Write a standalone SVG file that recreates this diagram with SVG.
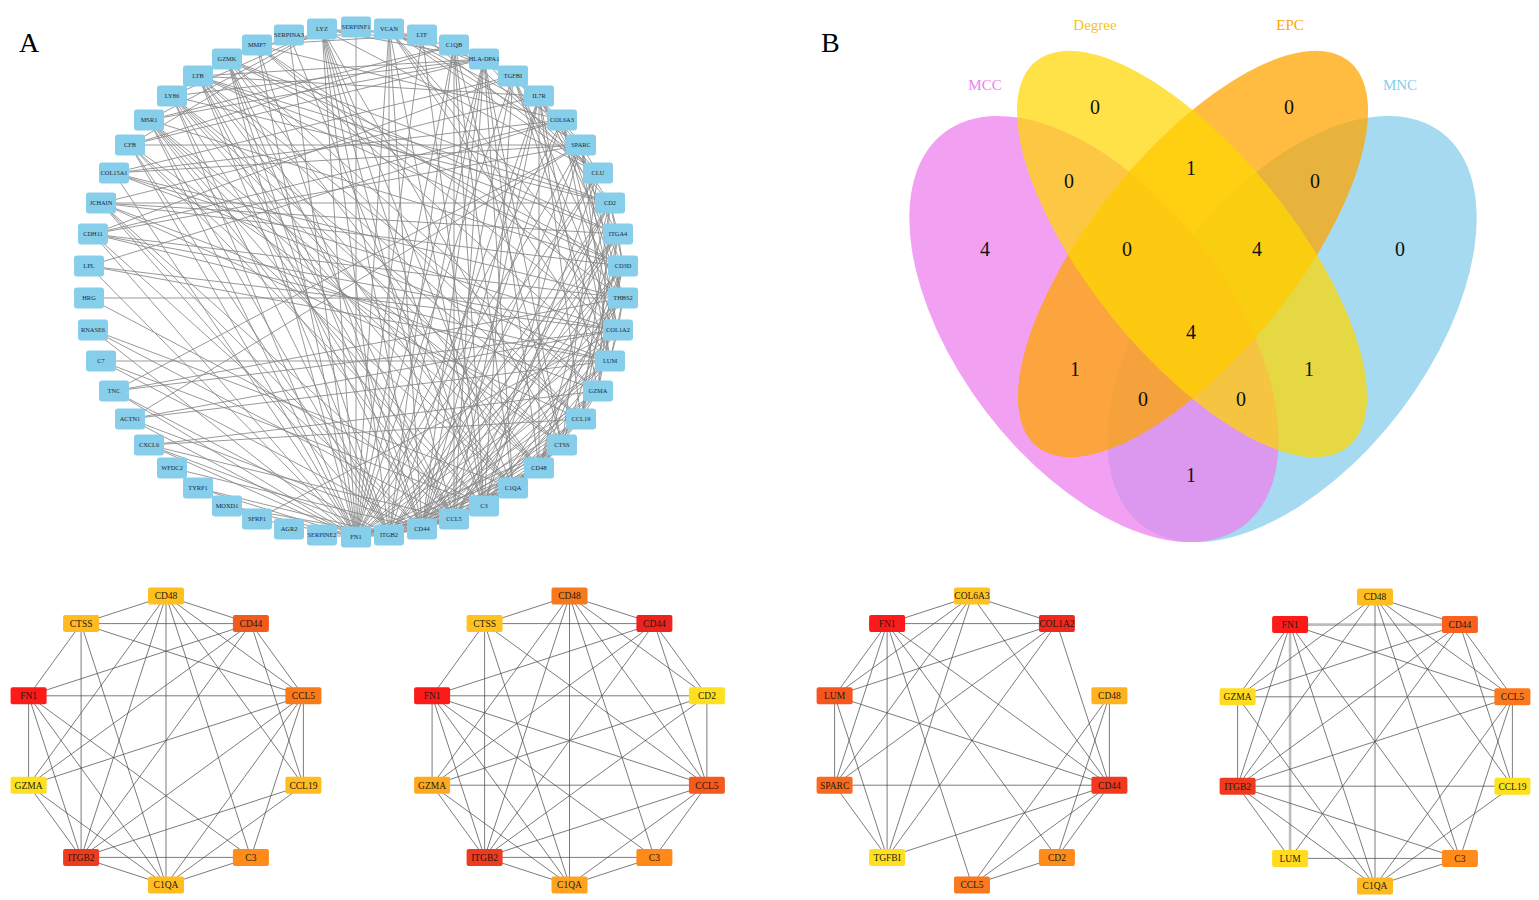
<svg xmlns="http://www.w3.org/2000/svg" width="1539" height="900" viewBox="0 0 1539 900">
<style>
text{font-family:"Liberation Serif","Times New Roman",serif}
.panel{font-size:28px;fill:#000}
.bn rect{fill:#87CEEB}
.bn text{font-size:6.4px;fill:#1b2838;text-anchor:middle}
.be{stroke:#878787;stroke-width:0.85;fill:none}
.sn rect{stroke:none}
.sn text{font-size:9.5px;fill:#221a10;text-anchor:middle}
.se{stroke:#444;stroke-width:0.7;fill:none}
.sthick{stroke:#bdbdbd;stroke-width:2.6;fill:none}
.vl{font-size:15px;text-anchor:middle}
.vn{font-size:20px;fill:#111;text-anchor:middle}
</style>
<rect width="1539" height="900" fill="#fff"/>
<text class="panel" x="19" y="52">A</text>
<text class="panel" x="821" y="52">B</text>

<!-- Panel A: large network -->
<g id="connectors-A">
<path class="be" d="M356,27L356,537L322,29M389,29L356,537L422,35M454,45L356,537L484,59M513,76L356,537L562,120M581,145L356,537L598,173M618,234L356,537L623,298M618,330L356,537L610,361M562,445L356,537L539,468M513,488L356,537L484,506M454,519L356,537L422,529M389,535L356,537L322,535M257,519L356,537L227,506M198,488L356,537L149,445M130,419L356,537L114,391M93,330L356,537L89,266M93,234L356,537L114,173M130,145L356,537L149,120M172,96L356,537L257,45M289,35L356,537L227,59"/>
<path class="be" d="M610,203L389,535L618,234M623,266L389,535L454,519M422,529L389,535L484,506M513,488L389,535L539,468M562,445L389,535L581,419M598,391L389,535L610,361M539,96L389,535L484,59M322,29L389,535L389,29M198,76L389,535L227,59M172,96L389,535L149,120M130,145L389,535L101,203M198,488L389,535L227,506M149,445L389,535L114,391M454,45L389,535L598,173"/>
<path class="be" d="M610,203L422,529L618,234M623,266L422,529L454,519M484,506L422,529L513,488M539,468L422,529L562,445M581,419L422,529L598,391M610,361L422,529L618,330M623,298L422,529L581,145M562,120L422,529L513,76M539,96L422,529L484,59M322,29L422,529L389,29M257,45L422,529L227,59M198,76L422,529L101,203M93,234L422,529L101,361M130,419L422,529L172,468"/>
<path class="be" d="M610,203L454,519L618,234M623,266L454,519L484,506M513,488L454,519L539,468M562,445L454,519L581,419M598,391L454,519L539,96M484,59L454,519L198,76M227,59L454,519L149,445M101,203L454,519L172,96M149,120L454,519L322,29M454,45L454,519L93,330"/>
<path class="be" d="M513,488L484,506L454,45M539,468L484,506L562,445M598,173L484,506L322,29M422,35L484,506L289,35M89,298L484,506L101,361M130,145L484,506L149,120M389,29L484,506L610,361M618,330L484,506L581,145M513,76L484,506L623,298"/>
<path class="be" d="M454,45L513,488L539,468M562,445L513,488L581,419M322,29L513,488L149,120M130,145L513,488L172,96M484,59L513,488L598,391M198,76L513,488L93,330"/>
<path class="be" d="M610,203L539,468L623,266M618,234L539,468L562,445M598,391L539,468L581,419M539,96L539,468L484,59M172,96L539,468L149,120M198,76L539,468L227,59"/>
<path class="be" d="M322,29L562,445L149,120M454,45L562,445L484,59M623,266L562,445L598,173M130,145L562,445L172,96"/>
<path class="be" d="M610,203L581,419L623,266M618,234L581,419L539,96M598,391L581,419L198,76M227,59L581,419L172,96M101,203L581,419L149,445"/>
<path class="be" d="M610,203L598,391L623,266M618,234L598,391L227,59M539,96L598,391L101,203M198,76L598,391L149,445"/>
<path class="be" d="M618,330L610,361L623,298M581,145L610,361L562,120M513,76L610,361L389,29M101,361L610,361L93,234M114,173L610,361L257,45M89,266L610,361L130,419"/>
<path class="be" d="M623,298L618,330L581,145M562,120L618,330L513,76M389,29L618,330L93,234M114,173L618,330L257,45M114,391L618,330L89,266M130,419L618,330L257,519"/>
<path class="be" d="M623,298L581,145L562,120M513,76L581,145L389,29M598,173L581,145L114,173M93,234L581,145L114,391M130,419L581,145L130,145"/>
<path class="be" d="M562,120L623,298L513,76M389,29L623,298L89,298M93,234L623,298L114,173M114,391L623,298L257,45"/>
<path class="be" d="M513,76L562,120L389,29M114,173L562,120L93,234M257,45L562,120L89,266"/>
<path class="be" d="M389,29L513,76L114,173M93,234L513,76L598,173"/>
<path class="be" d="M623,266L610,203L618,234M539,96L610,203L227,59M198,76L610,203L101,203M484,59L610,203L172,96"/>
<path class="be" d="M618,234L623,266L539,96M227,59L623,266L198,76M101,203L623,266L149,120"/>
<path class="be" d="M539,96L618,234L101,203M198,76L618,234L227,59M198,76L539,96L101,203"/>
<path class="be" d="M322,29L484,59L454,45M172,96L484,59L149,120M130,145L484,59L198,76"/>
<path class="be" d="M422,35L322,29L454,45M149,120L322,29L172,96M130,145L322,29L598,173"/>
<path class="be" d="M257,45L422,35L598,173M454,45L598,173L389,29M149,120L454,45L130,145M257,45L389,29"/>
</g>

<g id="nodes-A">
<g id="a-SERPINA3" class="bn" transform="translate(289 35)"><rect x="-15" y="-10.5" width="30" height="21" rx="3"/><text y="2.2">SERPINA3</text></g>
<g id="a-LYZ" class="bn" transform="translate(322 29)"><rect x="-15" y="-10.5" width="30" height="21" rx="3"/><text y="2.2">LYZ</text></g>
<g id="a-SERPINF1" class="bn" transform="translate(356 27)"><rect x="-15" y="-10.5" width="30" height="21" rx="3"/><text y="2.2">SERPINF1</text></g>
<g id="a-VCAN" class="bn" transform="translate(389 29)"><rect x="-15" y="-10.5" width="30" height="21" rx="3"/><text y="2.2">VCAN</text></g>
<g id="a-LTF" class="bn" transform="translate(422 35)"><rect x="-15" y="-10.5" width="30" height="21" rx="3"/><text y="2.2">LTF</text></g>
<g id="a-C1QB" class="bn" transform="translate(454 45)"><rect x="-15" y="-10.5" width="30" height="21" rx="3"/><text y="2.2">C1QB</text></g>
<g id="a-HLA-DPA1" class="bn" transform="translate(484 59)"><rect x="-15" y="-10.5" width="30" height="21" rx="3"/><text y="2.2">HLA-DPA1</text></g>
<g id="a-TGFBI" class="bn" transform="translate(513 76)"><rect x="-15" y="-10.5" width="30" height="21" rx="3"/><text y="2.2">TGFBI</text></g>
<g id="a-IL7R" class="bn" transform="translate(539 96)"><rect x="-15" y="-10.5" width="30" height="21" rx="3"/><text y="2.2">IL7R</text></g>
<g id="a-COL6A3" class="bn" transform="translate(562 120)"><rect x="-15" y="-10.5" width="30" height="21" rx="3"/><text y="2.2">COL6A3</text></g>
<g id="a-SPARC" class="bn" transform="translate(581 145)"><rect x="-15" y="-10.5" width="30" height="21" rx="3"/><text y="2.2">SPARC</text></g>
<g id="a-CLU" class="bn" transform="translate(598 173)"><rect x="-15" y="-10.5" width="30" height="21" rx="3"/><text y="2.2">CLU</text></g>
<g id="a-CD2" class="bn" transform="translate(610 203)"><rect x="-15" y="-10.5" width="30" height="21" rx="3"/><text y="2.2">CD2</text></g>
<g id="a-ITGA4" class="bn" transform="translate(618 234)"><rect x="-15" y="-10.5" width="30" height="21" rx="3"/><text y="2.2">ITGA4</text></g>
<g id="a-CD3D" class="bn" transform="translate(623 266)"><rect x="-15" y="-10.5" width="30" height="21" rx="3"/><text y="2.2">CD3D</text></g>
<g id="a-THBS2" class="bn" transform="translate(623 298)"><rect x="-15" y="-10.5" width="30" height="21" rx="3"/><text y="2.2">THBS2</text></g>
<g id="a-COL1A2" class="bn" transform="translate(618 330)"><rect x="-15" y="-10.5" width="30" height="21" rx="3"/><text y="2.2">COL1A2</text></g>
<g id="a-LUM" class="bn" transform="translate(610 361)"><rect x="-15" y="-10.5" width="30" height="21" rx="3"/><text y="2.2">LUM</text></g>
<g id="a-GZMA" class="bn" transform="translate(598 391)"><rect x="-15" y="-10.5" width="30" height="21" rx="3"/><text y="2.2">GZMA</text></g>
<g id="a-CCL19" class="bn" transform="translate(581 419)"><rect x="-15" y="-10.5" width="30" height="21" rx="3"/><text y="2.2">CCL19</text></g>
<g id="a-CTSS" class="bn" transform="translate(562 445)"><rect x="-15" y="-10.5" width="30" height="21" rx="3"/><text y="2.2">CTSS</text></g>
<g id="a-CD48" class="bn" transform="translate(539 468)"><rect x="-15" y="-10.5" width="30" height="21" rx="3"/><text y="2.2">CD48</text></g>
<g id="a-C1QA" class="bn" transform="translate(513 488)"><rect x="-15" y="-10.5" width="30" height="21" rx="3"/><text y="2.2">C1QA</text></g>
<g id="a-C3" class="bn" transform="translate(484 506)"><rect x="-15" y="-10.5" width="30" height="21" rx="3"/><text y="2.2">C3</text></g>
<g id="a-CCL5" class="bn" transform="translate(454 519)"><rect x="-15" y="-10.5" width="30" height="21" rx="3"/><text y="2.2">CCL5</text></g>
<g id="a-CD44" class="bn" transform="translate(422 529)"><rect x="-15" y="-10.5" width="30" height="21" rx="3"/><text y="2.2">CD44</text></g>
<g id="a-ITGB2" class="bn" transform="translate(389 535)"><rect x="-15" y="-10.5" width="30" height="21" rx="3"/><text y="2.2">ITGB2</text></g>
<g id="a-FN1" class="bn" transform="translate(356 537)"><rect x="-15" y="-10.5" width="30" height="21" rx="3"/><text y="2.2">FN1</text></g>
<g id="a-SERPINE2" class="bn" transform="translate(322 535)"><rect x="-15" y="-10.5" width="30" height="21" rx="3"/><text y="2.2">SERPINE2</text></g>
<g id="a-AGR2" class="bn" transform="translate(289 529)"><rect x="-15" y="-10.5" width="30" height="21" rx="3"/><text y="2.2">AGR2</text></g>
<g id="a-SFRP1" class="bn" transform="translate(257 519)"><rect x="-15" y="-10.5" width="30" height="21" rx="3"/><text y="2.2">SFRP1</text></g>
<g id="a-MOXD1" class="bn" transform="translate(227 506)"><rect x="-15" y="-10.5" width="30" height="21" rx="3"/><text y="2.2">MOXD1</text></g>
<g id="a-TYRP1" class="bn" transform="translate(198 488)"><rect x="-15" y="-10.5" width="30" height="21" rx="3"/><text y="2.2">TYRP1</text></g>
<g id="a-WFDC2" class="bn" transform="translate(172 468)"><rect x="-15" y="-10.5" width="30" height="21" rx="3"/><text y="2.2">WFDC2</text></g>
<g id="a-CXCL6" class="bn" transform="translate(149 445)"><rect x="-15" y="-10.5" width="30" height="21" rx="3"/><text y="2.2">CXCL6</text></g>
<g id="a-ACTN1" class="bn" transform="translate(130 419)"><rect x="-15" y="-10.5" width="30" height="21" rx="3"/><text y="2.2">ACTN1</text></g>
<g id="a-TNC" class="bn" transform="translate(114 391)"><rect x="-15" y="-10.5" width="30" height="21" rx="3"/><text y="2.2">TNC</text></g>
<g id="a-C7" class="bn" transform="translate(101 361)"><rect x="-15" y="-10.5" width="30" height="21" rx="3"/><text y="2.2">C7</text></g>
<g id="a-RNASE6" class="bn" transform="translate(93 330)"><rect x="-15" y="-10.5" width="30" height="21" rx="3"/><text y="2.2">RNASE6</text></g>
<g id="a-HRG" class="bn" transform="translate(89 298)"><rect x="-15" y="-10.5" width="30" height="21" rx="3"/><text y="2.2">HRG</text></g>
<g id="a-LPL" class="bn" transform="translate(89 266)"><rect x="-15" y="-10.5" width="30" height="21" rx="3"/><text y="2.2">LPL</text></g>
<g id="a-CDH11" class="bn" transform="translate(93 234)"><rect x="-15" y="-10.5" width="30" height="21" rx="3"/><text y="2.2">CDH11</text></g>
<g id="a-JCHAIN" class="bn" transform="translate(101 203)"><rect x="-15" y="-10.5" width="30" height="21" rx="3"/><text y="2.2">JCHAIN</text></g>
<g id="a-COL15A1" class="bn" transform="translate(114 173)"><rect x="-15" y="-10.5" width="30" height="21" rx="3"/><text y="2.2">COL15A1</text></g>
<g id="a-CFB" class="bn" transform="translate(130 145)"><rect x="-15" y="-10.5" width="30" height="21" rx="3"/><text y="2.2">CFB</text></g>
<g id="a-MSR1" class="bn" transform="translate(149 120)"><rect x="-15" y="-10.5" width="30" height="21" rx="3"/><text y="2.2">MSR1</text></g>
<g id="a-LY86" class="bn" transform="translate(172 96)"><rect x="-15" y="-10.5" width="30" height="21" rx="3"/><text y="2.2">LY86</text></g>
<g id="a-LTB" class="bn" transform="translate(198 76)"><rect x="-15" y="-10.5" width="30" height="21" rx="3"/><text y="2.2">LTB</text></g>
<g id="a-GZMK" class="bn" transform="translate(227 59)"><rect x="-15" y="-10.5" width="30" height="21" rx="3"/><text y="2.2">GZMK</text></g>
<g id="a-MMP7" class="bn" transform="translate(257 45)"><rect x="-15" y="-10.5" width="30" height="21" rx="3"/><text y="2.2">MMP7</text></g>
</g>

<!-- Panel B: Venn -->
<g id="venn">
<ellipse id="v-MNC" cx="1292" cy="329" rx="247" ry="136" transform="rotate(-52.7 1292 329)" fill="#87CEEB" fill-opacity="0.75"/>
<ellipse id="v-MCC" cx="1094" cy="329" rx="247" ry="136" transform="rotate(52.7 1094 329)" fill="#EE82EE" fill-opacity="0.75"/>
<ellipse id="v-EPC" cx="1193" cy="254" rx="248" ry="102" transform="rotate(-51 1193 254)" fill="#FFA500" fill-opacity="0.75"/>
<ellipse id="v-Degree" cx="1192" cy="254" rx="248" ry="102" transform="rotate(51 1192 254)" fill="#FFD700" fill-opacity="0.72"/>
<text class="vl" x="985" y="90" fill="#EE82EE">MCC</text>
<text class="vl" x="1095" y="30" fill="#F5C518">Degree</text>
<text class="vl" x="1290" y="30" fill="#FFA500">EPC</text>
<text class="vl" x="1400" y="90" fill="#87CEEB">MNC</text>
<text class="vn" x="1095" y="114">0</text>
<text class="vn" x="1289" y="114">0</text>
<text class="vn" x="1191" y="175">1</text>
<text class="vn" x="1069" y="188">0</text>
<text class="vn" x="1315" y="188">0</text>
<text class="vn" x="985" y="256">4</text>
<text class="vn" x="1127" y="256">0</text>
<text class="vn" x="1257" y="256">4</text>
<text class="vn" x="1400" y="256">0</text>
<text class="vn" x="1191" y="339">4</text>
<text class="vn" x="1075" y="376">1</text>
<text class="vn" x="1309" y="376">1</text>
<text class="vn" x="1143" y="406">0</text>
<text class="vn" x="1241" y="406">0</text>
<text class="vn" x="1191" y="482">1</text>
</g>

<!-- Bottom networks -->
<g id="net1" transform="translate(166 740.5)">
<g id="connectors-1"><path class="se" d="M0,-144.5L-84.9,-116.9M0,-144.5L84.9,-116.9M0,-144.5L-137.4,44.7M0,-144.5L-84.9,116.9M0,-144.5L0,144.5M0,-144.5L84.9,116.9M0,-144.5L137.4,44.7M0,-144.5L137.4,-44.7M-84.9,-116.9L84.9,-116.9M-84.9,-116.9L-137.4,-44.7M-84.9,-116.9L-84.9,116.9M-84.9,-116.9L0,144.5M-84.9,-116.9L137.4,-44.7M84.9,-116.9L-137.4,-44.7M84.9,-116.9L-137.4,44.7M84.9,-116.9L-84.9,116.9M84.9,-116.9L137.4,-44.7M84.9,-116.9L137.4,44.7M-137.4,-44.7L137.4,-44.7M-137.4,-44.7L-137.4,44.7M-137.4,-44.7L-84.9,116.9M-137.4,-44.7L0,144.5M-137.4,-44.7L84.9,116.9M-137.4,44.7L-84.9,116.9M-137.4,44.7L0,144.5M-137.4,44.7L137.4,-44.7M-84.9,116.9L84.9,116.9M-84.9,116.9L0,144.5M-84.9,116.9L137.4,44.7M-84.9,116.9L137.4,-44.7M84.9,116.9L0,144.5M84.9,116.9L137.4,-44.7M0,144.5L137.4,-44.7M0,144.5L137.4,44.7M137.4,-44.7L137.4,44.7"/></g>
<g id="n1-CD48" class="sn" transform="translate(0 -144.5)"><rect x="-18" y="-8.5" width="36" height="17" rx="2" fill="#FFBF1F"/><text y="3.3">CD48</text></g>
<g id="n1-CD44" class="sn" transform="translate(84.9 -116.9)"><rect x="-18" y="-8.5" width="36" height="17" rx="2" fill="#F25A1E"/><text y="3.3">CD44</text></g>
<g id="n1-CCL5" class="sn" transform="translate(137.4 -44.7)"><rect x="-18" y="-8.5" width="36" height="17" rx="2" fill="#F9791B"/><text y="3.3">CCL5</text></g>
<g id="n1-CCL19" class="sn" transform="translate(137.4 44.7)"><rect x="-18" y="-8.5" width="36" height="17" rx="2" fill="#FFBB1F"/><text y="3.3">CCL19</text></g>
<g id="n1-C3" class="sn" transform="translate(84.9 116.9)"><rect x="-18" y="-8.5" width="36" height="17" rx="2" fill="#FF8C1A"/><text y="3.3">C3</text></g>
<g id="n1-C1QA" class="sn" transform="translate(0 144.5)"><rect x="-18" y="-8.5" width="36" height="17" rx="2" fill="#FFBD1F"/><text y="3.3">C1QA</text></g>
<g id="n1-ITGB2" class="sn" transform="translate(-84.9 116.9)"><rect x="-18" y="-8.5" width="36" height="17" rx="2" fill="#EE3B1F"/><text y="3.3">ITGB2</text></g>
<g id="n1-GZMA" class="sn" transform="translate(-137.4 44.7)"><rect x="-18" y="-8.5" width="36" height="17" rx="2" fill="#FFE01F"/><text y="3.3">GZMA</text></g>
<g id="n1-FN1" class="sn" transform="translate(-137.4 -44.7)"><rect x="-18" y="-8.5" width="36" height="17" rx="2" fill="#FF1A1A"/><text y="3.3">FN1</text></g>
<g id="n1-CTSS" class="sn" transform="translate(-84.9 -116.9)"><rect x="-18" y="-8.5" width="36" height="17" rx="2" fill="#FFBB1F"/><text y="3.3">CTSS</text></g>
</g>

<g id="net2" transform="translate(569.5 740.5)">
<g id="connectors-2"><path class="se" d="M0,-144.5L-84.9,-116.9M0,-144.5L84.9,-116.9M0,-144.5L-137.4,44.7M0,-144.5L-84.9,116.9M0,-144.5L0,144.5M0,-144.5L84.9,116.9M0,-144.5L137.4,44.7M0,-144.5L137.4,-44.7M-84.9,-116.9L84.9,-116.9M-84.9,-116.9L-137.4,-44.7M-84.9,-116.9L-84.9,116.9M-84.9,-116.9L0,144.5M-84.9,-116.9L137.4,44.7M84.9,-116.9L-137.4,-44.7M84.9,-116.9L-137.4,44.7M84.9,-116.9L-84.9,116.9M84.9,-116.9L137.4,-44.7M84.9,-116.9L137.4,44.7M-137.4,-44.7L137.4,-44.7M-137.4,-44.7L-137.4,44.7M-137.4,-44.7L-84.9,116.9M-137.4,-44.7L0,144.5M-137.4,-44.7L84.9,116.9M-137.4,-44.7L137.4,44.7M-137.4,44.7L137.4,44.7M-137.4,44.7L137.4,-44.7M-137.4,44.7L-84.9,116.9M-137.4,44.7L0,144.5M-84.9,116.9L84.9,116.9M-84.9,116.9L0,144.5M-84.9,116.9L137.4,44.7M-84.9,116.9L137.4,-44.7M84.9,116.9L0,144.5M84.9,116.9L137.4,44.7M0,144.5L137.4,44.7M137.4,-44.7L137.4,44.7"/></g>
<g id="n2-CD48" class="sn" transform="translate(0 -144.5)"><rect x="-18" y="-8.5" width="36" height="17" rx="2" fill="#F7781E"/><text y="3.3">CD48</text></g>
<g id="n2-CD44" class="sn" transform="translate(84.9 -116.9)"><rect x="-18" y="-8.5" width="36" height="17" rx="2" fill="#EE231E"/><text y="3.3">CD44</text></g>
<g id="n2-CD2" class="sn" transform="translate(137.4 -44.7)"><rect x="-18" y="-8.5" width="36" height="17" rx="2" fill="#FFE01F"/><text y="3.3">CD2</text></g>
<g id="n2-CCL5" class="sn" transform="translate(137.4 44.7)"><rect x="-18" y="-8.5" width="36" height="17" rx="2" fill="#F5591E"/><text y="3.3">CCL5</text></g>
<g id="n2-C3" class="sn" transform="translate(84.9 116.9)"><rect x="-18" y="-8.5" width="36" height="17" rx="2" fill="#FF8A1A"/><text y="3.3">C3</text></g>
<g id="n2-C1QA" class="sn" transform="translate(0 144.5)"><rect x="-18" y="-8.5" width="36" height="17" rx="2" fill="#FFA21E"/><text y="3.3">C1QA</text></g>
<g id="n2-ITGB2" class="sn" transform="translate(-84.9 116.9)"><rect x="-18" y="-8.5" width="36" height="17" rx="2" fill="#EE3B1F"/><text y="3.3">ITGB2</text></g>
<g id="n2-GZMA" class="sn" transform="translate(-137.4 44.7)"><rect x="-18" y="-8.5" width="36" height="17" rx="2" fill="#FFAA1E"/><text y="3.3">GZMA</text></g>
<g id="n2-FN1" class="sn" transform="translate(-137.4 -44.7)"><rect x="-18" y="-8.5" width="36" height="17" rx="2" fill="#FF1A1A"/><text y="3.3">FN1</text></g>
<g id="n2-CTSS" class="sn" transform="translate(-84.9 -116.9)"><rect x="-18" y="-8.5" width="36" height="17" rx="2" fill="#FFC21F"/><text y="3.3">CTSS</text></g>
</g>

<g id="net3" transform="translate(972 740.5)">
<g id="connectors-3"><path class="se" d="M0,-144.5L-84.9,-116.9M0,-144.5L84.9,-116.9M-84.9,-116.9L84.9,-116.9M0,-144.5L-137.4,-44.7M0,-144.5L-137.4,44.7M0,-144.5L-84.9,116.9M0,-144.5L137.4,44.7M-84.9,-116.9L-137.4,-44.7M-84.9,-116.9L-137.4,44.7M-84.9,-116.9L-84.9,116.9M-84.9,-116.9L0,144.5M-84.9,-116.9L84.9,116.9M-84.9,-116.9L137.4,44.7M84.9,-116.9L-137.4,-44.7M84.9,-116.9L-137.4,44.7M84.9,-116.9L-84.9,116.9M84.9,-116.9L137.4,44.7M-137.4,-44.7L-137.4,44.7M-137.4,-44.7L-84.9,116.9M-137.4,-44.7L137.4,44.7M-137.4,44.7L137.4,44.7M-137.4,44.7L-84.9,116.9M-84.9,116.9L137.4,44.7M137.4,-44.7L137.4,44.7M137.4,-44.7L84.9,116.9M137.4,-44.7L0,144.5M137.4,44.7L84.9,116.9M137.4,44.7L0,144.5M84.9,116.9L0,144.5"/></g>
<g id="n3-COL6A3" class="sn" transform="translate(0 -144.5)"><rect x="-18" y="-8.5" width="36" height="17" rx="2" fill="#FFC21F"/><text y="3.3">COL6A3</text></g>
<g id="n3-COL1A2" class="sn" transform="translate(84.9 -116.9)"><rect x="-18" y="-8.5" width="36" height="17" rx="2" fill="#F0281E"/><text y="3.3">COL1A2</text></g>
<g id="n3-CD48" class="sn" transform="translate(137.4 -44.7)"><rect x="-18" y="-8.5" width="36" height="17" rx="2" fill="#FFB21F"/><text y="3.3">CD48</text></g>
<g id="n3-CD44" class="sn" transform="translate(137.4 44.7)"><rect x="-18" y="-8.5" width="36" height="17" rx="2" fill="#F2381E"/><text y="3.3">CD44</text></g>
<g id="n3-CD2" class="sn" transform="translate(84.9 116.9)"><rect x="-18" y="-8.5" width="36" height="17" rx="2" fill="#FF8C1A"/><text y="3.3">CD2</text></g>
<g id="n3-CCL5" class="sn" transform="translate(0 144.5)"><rect x="-18" y="-8.5" width="36" height="17" rx="2" fill="#FA781E"/><text y="3.3">CCL5</text></g>
<g id="n3-TGFBI" class="sn" transform="translate(-84.9 116.9)"><rect x="-18" y="-8.5" width="36" height="17" rx="2" fill="#FFE01F"/><text y="3.3">TGFBI</text></g>
<g id="n3-SPARC" class="sn" transform="translate(-137.4 44.7)"><rect x="-18" y="-8.5" width="36" height="17" rx="2" fill="#FA6A1E"/><text y="3.3">SPARC</text></g>
<g id="n3-LUM" class="sn" transform="translate(-137.4 -44.7)"><rect x="-18" y="-8.5" width="36" height="17" rx="2" fill="#F7551E"/><text y="3.3">LUM</text></g>
<g id="n3-FN1" class="sn" transform="translate(-84.9 -116.9)"><rect x="-18" y="-8.5" width="36" height="17" rx="2" fill="#FF1A1A"/><text y="3.3">FN1</text></g>
</g>

<g id="net4" transform="translate(1375 741.5)">
<g id="connectors-4">
<path class="sthick" d="M-84.9,-116.9L84.9,-116.9M-84.9,-116.9L-84.9,116.9"/>
<path class="se" d="M0,-144.5L84.9,-116.9M0,-144.5L-137.4,-44.7M0,-144.5L-137.4,44.7M0,-144.5L0,144.5M0,-144.5L84.9,116.9M0,-144.5L137.4,44.7M0,-144.5L137.4,-44.7M-84.9,-116.9L-137.4,-44.7M-84.9,-116.9L-137.4,44.7M-84.9,-116.9L0,144.5M-84.9,-116.9L84.9,116.9M-84.9,-116.9L137.4,-44.7M84.9,-116.9L-137.4,-44.7M84.9,-116.9L-137.4,44.7M84.9,-116.9L-84.9,116.9M84.9,-116.9L137.4,-44.7M84.9,-116.9L137.4,44.7M-137.4,-44.7L137.4,-44.7M-137.4,-44.7L-137.4,44.7M-137.4,-44.7L0,144.5M-137.4,44.7L137.4,44.7M-137.4,44.7L137.4,-44.7M-137.4,44.7L-84.9,116.9M-137.4,44.7L0,144.5M-137.4,44.7L84.9,116.9M-84.9,116.9L84.9,116.9M84.9,116.9L0,144.5M84.9,116.9L137.4,-44.7M0,144.5L137.4,-44.7M0,144.5L137.4,44.7M137.4,-44.7L137.4,44.7"/>
</g>
<g id="n4-CD48" class="sn" transform="translate(0 -144.5)"><rect x="-18" y="-8.5" width="36" height="17" rx="2" fill="#FFBE1F"/><text y="3.3">CD48</text></g>
<g id="n4-CD44" class="sn" transform="translate(84.9 -116.9)"><rect x="-18" y="-8.5" width="36" height="17" rx="2" fill="#FA601E"/><text y="3.3">CD44</text></g>
<g id="n4-CCL5" class="sn" transform="translate(137.4 -44.7)"><rect x="-18" y="-8.5" width="36" height="17" rx="2" fill="#FA781E"/><text y="3.3">CCL5</text></g>
<g id="n4-CCL19" class="sn" transform="translate(137.4 44.7)"><rect x="-18" y="-8.5" width="36" height="17" rx="2" fill="#FFE01F"/><text y="3.3">CCL19</text></g>
<g id="n4-C3" class="sn" transform="translate(84.9 116.9)"><rect x="-18" y="-8.5" width="36" height="17" rx="2" fill="#FF8C1A"/><text y="3.3">C3</text></g>
<g id="n4-C1QA" class="sn" transform="translate(0 144.5)"><rect x="-18" y="-8.5" width="36" height="17" rx="2" fill="#FFBA1F"/><text y="3.3">C1QA</text></g>
<g id="n4-LUM" class="sn" transform="translate(-84.9 116.9)"><rect x="-18" y="-8.5" width="36" height="17" rx="2" fill="#FFDC1F"/><text y="3.3">LUM</text></g>
<g id="n4-ITGB2" class="sn" transform="translate(-137.4 44.7)"><rect x="-18" y="-8.5" width="36" height="17" rx="2" fill="#EE3B1F"/><text y="3.3">ITGB2</text></g>
<g id="n4-GZMA" class="sn" transform="translate(-137.4 -44.7)"><rect x="-18" y="-8.5" width="36" height="17" rx="2" fill="#FFDC1F"/><text y="3.3">GZMA</text></g>
<g id="n4-FN1" class="sn" transform="translate(-84.9 -116.9)"><rect x="-18" y="-8.5" width="36" height="17" rx="2" fill="#FF1A1A"/><text y="3.3">FN1</text></g>
</g>
</svg>
